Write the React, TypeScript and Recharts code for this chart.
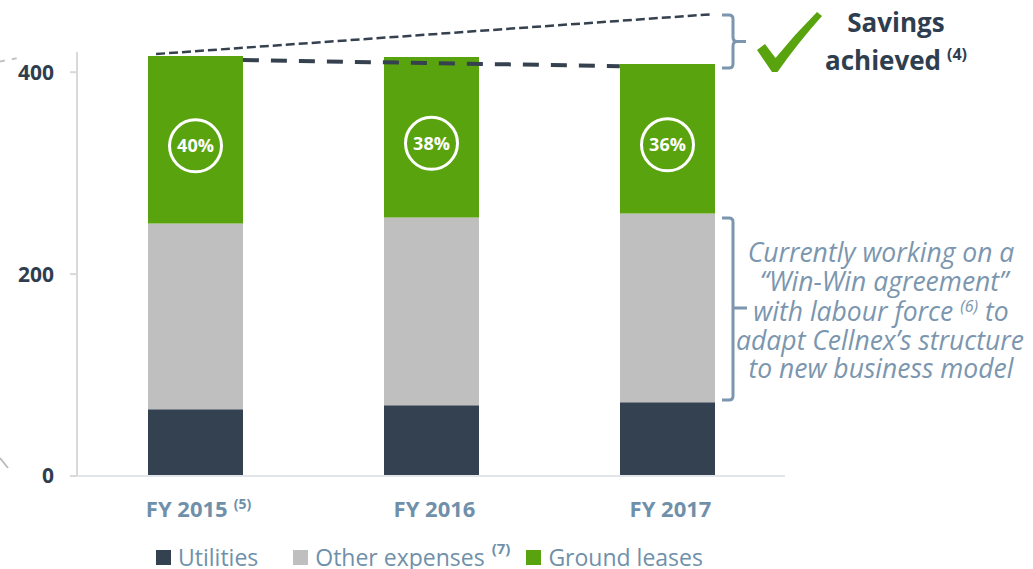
import React from 'react';
import { BarChart, Bar, XAxis, YAxis, ReferenceLine, Legend, LabelList } from 'recharts';

// ---------- data ----------
const categories = ['FY 2015', 'FY 2016', 'FY 2017'];
const categoryNotes = ['(5)', '', ''];
const categorySlots = [0.5, 1.5, 2.5];
const utilities = [66, 70, 73];
const otherExpenses = [184, 186, 187];
const groundLeases = [166, 159, 148];
const groundLeaseShare = ['40%', '38%', '36%'];
const yTicks = [0, 200, 400];
const seriesKeys = ['utilities', 'other', 'ground'];
const seriesNames = ['Utilities', 'Other expenses', 'Ground leases'];
const seriesNotes = ['', '(7)', ''];

// annotation lines: x on a 0..3 slot scale (one unit per category), y in chart units
const actualCostLine = [{ x: 0.703, y: 412 }, { x: 2.3, y: 406 }];
const targetCostLine = [{ x: 0.335, y: 418 }, { x: 2.695, y: 457.5 }];

const data = categories.map((name, i) => ({
  name,
  slot: categorySlots[i],
  utilities: utilities[i],
  other: otherExpenses[i],
  ground: groundLeases[i],
  share: groundLeaseShare[i],
}));

// ---------- styles ----------
const FONT = '"Open Sans", "DejaVu Sans", sans-serif';
const DARK = '#344150';
const GREY = '#bfbfbf';
const GREEN = '#59a30e';
const LABEL_DARK = '#2f3e4e';
const STEEL = '#7090aa';
const NOTE = '#7b96ae';

const XTick = (props: any) => {
  const { x, y, payload } = props;
  const i = categories.indexOf(payload.value);
  const note = i >= 0 ? categoryNotes[i] : '';
  return (
    <text
      x={x + 3.5}
      y={y + 41}
      textAnchor="middle"
      fill={STEEL}
      fontSize={22}
      fontWeight={700}
      fontFamily={FONT}
    >
      {payload.value}
      {note ? (
        <tspan dx={6} dy={-8} fontSize={14}>
          {note}
        </tspan>
      ) : null}
    </text>
  );
};

const ShareBadge = (props: any) => {
  const vb = props.viewBox && props.viewBox.width != null ? props.viewBox : props;
  const x = Number(vb.x);
  const y = Number(vb.y);
  const width = Number(vb.width);
  const height = Number(vb.height);
  const cx = x + width / 2;
  const cy = y + height / 2 + 6;
  return (
    <g>
      <circle cx={cx} cy={cy} r={26} fill="none" stroke="#ffffff" strokeWidth={3} />
      <text
        x={cx}
        y={cy}
        dy="0.36em"
        textAnchor="middle"
        fill="#ffffff"
        fontSize={18}
        fontWeight={700}
        fontFamily={FONT}
      >
        {props.value}
      </text>
    </g>
  );
};

const LegendContent = (props: any) => {
  const payload = [...(props.payload || [])].sort(
    (a: any, b: any) => seriesKeys.indexOf(a.dataKey) - seriesKeys.indexOf(b.dataKey)
  );
  return (
    <div
      style={{
        display: 'flex',
        alignItems: 'center',
        height: 30,
        lineHeight: '30px',
        fontFamily: FONT,
        fontSize: 23,
        color: STEEL,
        whiteSpace: 'nowrap',
      }}
    >
      {payload.map((p: any, idx: number) => {
        const k = seriesKeys.indexOf(p.dataKey);
        const i = k >= 0 ? k : idx;
        return (
          <div
            key={i}
            style={{ display: 'flex', alignItems: 'center', marginRight: i === 0 ? 35 : 16 }}
          >
            <span style={{ display: 'inline-block', width: 15, height: 15, background: p.color, marginRight: 7 }} />
            <span>{seriesNames[i]}</span>
            {seriesNotes[i] ? (
              <span style={{ fontSize: 15, fontWeight: 700, marginLeft: 7, position: 'relative', top: -9 }}>
                {seriesNotes[i]}
              </span>
            ) : null}
          </div>
        );
      })}
    </div>
  );
};

const Annotations = () => (
  <svg
    width={1033}
    height={569}
    style={{ position: 'absolute', left: 0, top: 0, pointerEvents: 'none' }}
  >
    {/* fragments of the neighbouring slide content at the left edge */}
    <line x1={0} y1={61.5} x2={18} y2={58} stroke="#c4c4c4" strokeWidth={2} strokeDasharray="5 7" />
    <line x1={0} y1={458} x2={8} y2={468} stroke="#bdbdbd" strokeWidth={2} />

    {/* savings bracket */}
    <path
      d="M722,15 H729 Q733,15 733,19 V37 Q733,41.5 737,41.5 H746 M737,41.5 Q733,41.5 733,46 V64 Q733,68 729,68 H722"
      fill="none"
      stroke={NOTE}
      strokeWidth={3}
    />
    {/* check mark */}
    <path
      d="M757,50 L765,44 L775.5,58 Q795,34 817,12 L822,16 Q797,44 777.5,72 L772,72 Z"
      fill={GREEN}
    />
    <text textAnchor="middle" fill={LABEL_DARK} fontFamily={FONT} fontWeight={700} fontSize={26}>
      <tspan x={896} y={32}>Savings</tspan>
      <tspan x={896} y={70}>achieved</tspan>
      <tspan dx={6} dy={-10} fontSize={16}>(4)</tspan>
    </text>

    {/* labour bracket */}
    <path
      d="M722,218 H729 Q733,218 733,222 V396 Q733,400 729,400 H722 M733,308 H747"
      fill="none"
      stroke={NOTE}
      strokeWidth={3}
    />
    <text textAnchor="middle" fill={NOTE} fontFamily={FONT} fontStyle="italic" fontSize={26.5}>
      <tspan x={881} y={262}>Currently working on a</tspan>
      <tspan x={884} y={291}>“Win-Win agreement”</tspan>
      <tspan x={881} y={320.5}>with labour force </tspan>
      <tspan dy={-9} fontSize={16}>(6)</tspan>
      <tspan dy={9}> to</tspan>
      <tspan x={880} y={350}>adapt Cellnex’s structure</tspan>
      <tspan x={881} y={378}>to new business model</tspan>
    </text>
  </svg>
);

export default function App() {
  return (
    <div
      style={{
        position: 'absolute',
        left: 0,
        top: 0,
        width: 1033,
        height: 569,
        background: '#ffffff',
        overflow: 'hidden',
      }}
    >
      <BarChart
        width={1033}
        height={569}
        data={data}
        margin={{ top: 52, right: 248, bottom: 63, left: 0 }}
        barSize={95}
      >
        <XAxis
          xAxisId="cat"
          dataKey="name"
          height={30}
          axisLine={{ stroke: '#e2e6eb', strokeWidth: 2 }}
          tickLine={false}
          tickSize={0}
          tickMargin={0}
          tick={<XTick />}
          interval={0}
        />
        <XAxis
          xAxisId="num"
          dataKey="slot"
          type="number"
          scale="linear"
          domain={[0, 3]}
          allowDataOverflow
          padding={{ left: 0, right: 0 }}
          hide
        />
        <YAxis
          domain={[0, 420]}
          ticks={yTicks}
          width={77}
          axisLine={{ stroke: '#d9d9d9', strokeWidth: 2 }}
          tickLine={{ stroke: '#d9d9d9', strokeWidth: 2 }}
          tickSize={7}
          tickMargin={16}
          tick={{ fill: LABEL_DARK, fontSize: 21, fontWeight: 700, fontFamily: FONT }}
        />
        <ReferenceLine
          xAxisId="num"
          segment={targetCostLine}
          stroke="#35414f"
          strokeWidth={2.5}
          strokeDasharray="9 4"
          ifOverflow="visible"
        />
        <ReferenceLine
          xAxisId="num"
          segment={actualCostLine}
          stroke="#35414f"
          strokeWidth={4}
          strokeDasharray="16 12"
          ifOverflow="visible"
        />
        <Bar xAxisId="cat" dataKey="utilities" name="Utilities" stackId="a" fill={DARK} isAnimationActive={false} />
        <Bar xAxisId="cat" dataKey="other" name="Other expenses" stackId="a" fill={GREY} isAnimationActive={false} />
        <Bar xAxisId="cat" dataKey="ground" name="Ground leases" stackId="a" fill={GREEN} isAnimationActive={false}>
          <LabelList dataKey="share" content={<ShareBadge />} />
        </Bar>
        <Legend
          layout="horizontal"
          verticalAlign="middle"
          align="center"
          content={<LegendContent />}
          wrapperStyle={{ top: 542, left: 156, width: 700, height: 30 }}
        />
      </BarChart>
      <Annotations />
    </div>
  );
}
